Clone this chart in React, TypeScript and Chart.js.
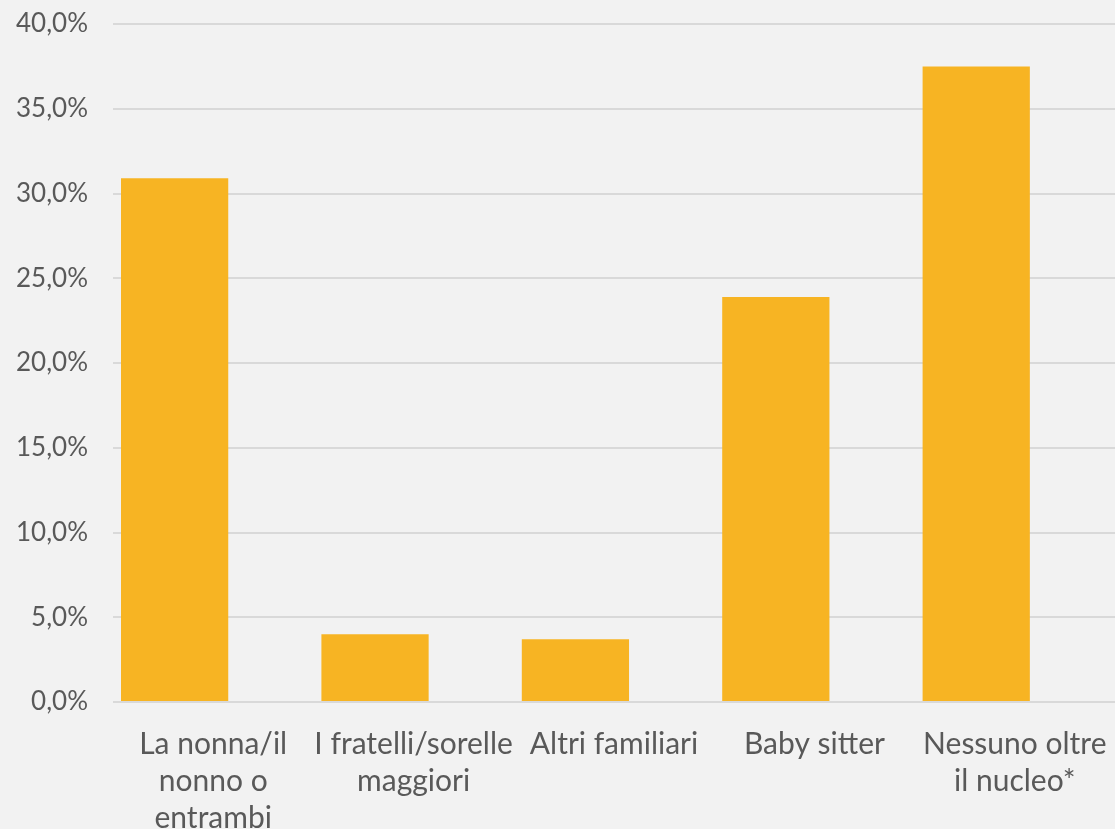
import React, { useEffect, useRef } from "react";
import { Chart, registerables } from "chart.js";

Chart.register(...registerables);

const categories: (string | string[])[] = [
  ["La nonna/il", "nonno o", "entrambi"],
  ["I fratelli/sorelle", "maggiori"],
  "Altri familiari",
  "Baby sitter",
  ["Nessuno oltre", "il nucleo*"],
];

const shares: number[] = [30.9, 4.0, 3.7, 23.9, 37.5];
// Empty companion series: keeps the clustered slot layout of the original workbook
const emptySeries: (number | null)[] = [null, null, null, null, null];

const yTicks: number[] = [0, 5, 10, 15, 20, 25, 30, 35, 40];

const BAR = "#F7B423";
const TEXT = "#595959";
const GRID = "#D9D9D9";
const BG = "#F2F2F2";
const FONT = "Lato, 'Open Sans', sans-serif";

const fmt = (v: number) => v.toFixed(1).replace(".", ",") + "%";

export default function App() {
  const ref = useRef<HTMLCanvasElement | null>(null);

  useEffect(() => {
    if (!ref.current) return;
    const chart = new Chart(ref.current, {
      type: "bar",
      data: {
        labels: categories,
        datasets: [
          {
            label: "Quota",
            data: shares,
            backgroundColor: BAR,
            borderWidth: 0,
            categoryPercentage: 0.77,
            barPercentage: 1.39,
          },
          {
            label: "",
            data: emptySeries,
            backgroundColor: BAR,
            categoryPercentage: 0.77,
            barPercentage: 1.39,
          },
        ],
      },
      options: {
        animation: false,
        responsive: false,
        maintainAspectRatio: false,
        layout: { padding: { top: 24, right: 0, bottom: 0, left: 0 } },
        plugins: {
          legend: { display: false },
          tooltip: { enabled: false },
        },
        scales: {
          x: {
            grid: { display: false },
            border: { display: false },
            ticks: {
              color: TEXT,
              font: { family: FONT, size: 30, lineHeight: 1.23 },
              padding: 16,
              maxRotation: 0,
              autoSkip: false,
            },
            afterFit: (scale: any) => {
              scale.height = 127;
              scale.paddingLeft = 0;
              scale.paddingRight = 0;
            },
          },
          y: {
            min: 0,
            max: 40,
            afterBuildTicks: (scale: any) => {
              scale.ticks = yTicks.map((v) => ({ value: v }));
            },
            grid: { color: GRID, lineWidth: 2, drawTicks: false },
            border: { display: false },
            ticks: {
              color: TEXT,
              font: { family: FONT, size: 26 },
              padding: 25,
              callback: (v: any) => fmt(Number(v)),
            },
            afterFit: (scale: any) => {
              scale.width = 113;
              scale.paddingTop = 0;
              scale.paddingBottom = 0;
            },
          },
        },
      },
    });
    return () => chart.destroy();
  }, []);

  return (
    <div
      style={{
        position: "fixed",
        left: 0,
        top: 0,
        width: 1115,
        height: 829,
        background: BG,
      }}
    >
      <canvas ref={ref} width={1115} height={829} />
    </div>
  );
}
